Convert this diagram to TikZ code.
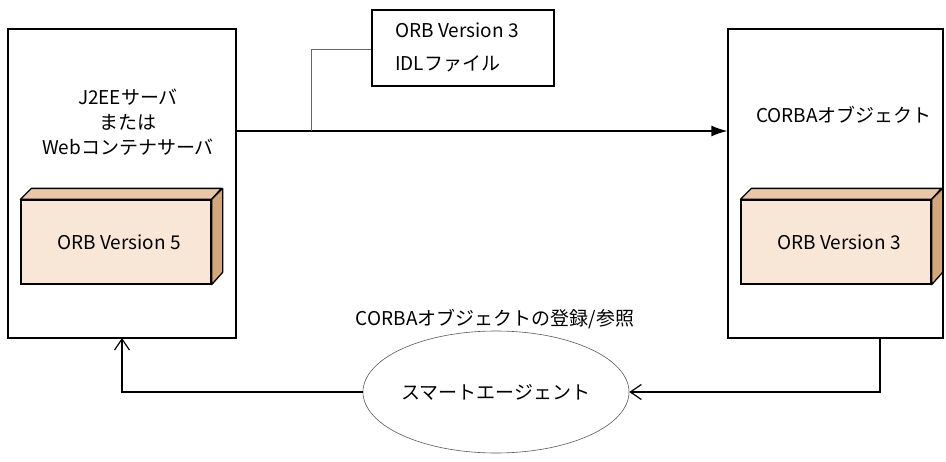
\documentclass[tikz,border=0pt]{standalone}
\usepackage{fontspec}
\setmainfont{Noto Sans CJK JP}
\usetikzlibrary{arrows.meta,shapes.geometric}
\definecolor{frontc}{RGB}{248,231,215}
\definecolor{topc}{RGB}{232,198,166}
\definecolor{sidec}{RGB}{213,166,121}
\tikzset{
  box/.style={draw,line width=1.3pt,minimum width=#1,minimum height=309pt,inner sep=0pt},
  label/.style={font=\fontsize{19}{25}\selectfont,align=center,inner sep=0pt},
  face/.style={draw,line width=1.3pt,fill=frontc,minimum width=190pt,minimum height=84pt,inner sep=0pt},
  topface/.style={draw,line width=1.3pt,fill=topc,line join=round},
  sideface/.style={draw,line width=1.3pt,fill=sidec,line join=round},
  conn/.style={line width=1.3pt},
  barb/.style={conn,-{Straight Barb[length=11pt,width=15pt,line width=1.2pt]}},
}
\begin{document}
\begin{tikzpicture}[x=1pt,y=-1pt]
\useasboundingbox (0,0) rectangle (946,461);
% main boxes
\node[box=228pt] (L) at (122,183.5) {};
\node[box=215pt] (R) at (835.5,183.5) {};
% left box text
\node[label] (Ltxt) at (128,122) {J2EEサーバ\\または\\Webコンテナサーバ};
% left 3D box
\node[face] (LF) at (116,242) {};
\filldraw[topface] (LF.north west) -- ++(11,-11) -- ++(190,0) -- (LF.north east) -- cycle;
\filldraw[sideface] (LF.north east) -- ++(11,-11) -- ++(0,84) -- (LF.south east) -- cycle;
\node[label] (Lorb) at (119,242) {ORB Version 5};
% right box text
\node[label] (Rtxt) at (844,115) {CORBAオブジェクト};
% right 3D box
\node[face] (RF) at (836,242) {};
\filldraw[topface] (RF.north west) -- ++(11,-11) -- ++(190,0) -- (RF.north east) -- cycle;
\filldraw[sideface] (RF.north east) -- ++(11,-11) -- ++(0,84) -- (RF.south east) -- cycle;
\node[label] (Rorb) at (839,242) {ORB Version 3};
% IDL file box
\node[draw,line width=1.1pt,minimum width=182pt,minimum height=76pt,inner sep=0pt] (IDL) at (463,48) {};
\node[label,align=left,anchor=west,font=\fontsize{19}{33}\selectfont] (IDLtxt) at (395,47) {ORB Version 3\\IDLファイル};
% main arrow
\coordinate (J) at (311,131);
\draw[conn,-{Latex[length=16pt,width=11pt]}] (L.east |- J) -- (R.west |- J);
\draw[line width=0.9pt,gray!80!black] (IDL.west |- 0,49) -| (J);
% smart agent
\node[draw,ellipse,line width=0.6pt,draw=gray!70!black,minimum width=266pt,minimum height=122pt,inner sep=0pt] (SA) at (496,392) {};
\node[label] (SAtxt) at (496,392) {スマートエージェント};
\node[label] (reg) at (495,319) {CORBAオブジェクトの登録/参照};
\coordinate (lb) at (122,338);
\coordinate (rb) at (880,338);
\draw[barb] (SA.west) -| (lb);
\draw[barb] (rb) |- (SA.east);
\end{tikzpicture}
\end{document}
